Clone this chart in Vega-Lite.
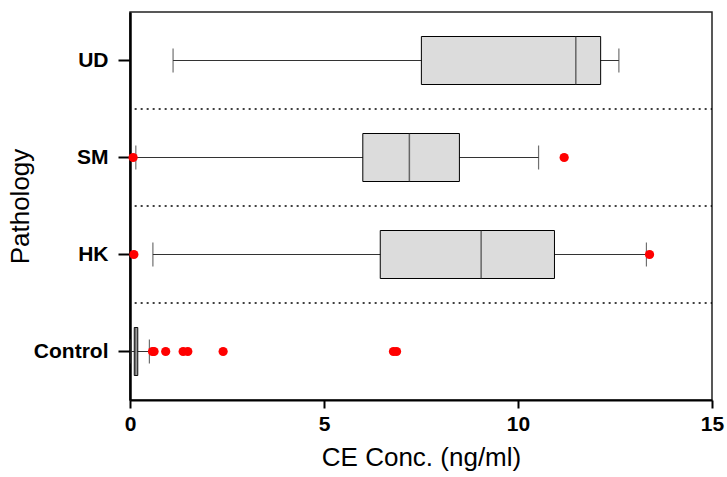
{
  "$schema": "https://vega.github.io/schema/vega-lite/v6.json",
  "width": 582,
  "height": 388,
  "autosize": "none",
  "padding": {"left": 130, "top": 12, "right": 15, "bottom": 77},
  "background": "white",
  "config": {
    "font": "Liberation Sans",
    "view": {"stroke": "#222222", "strokeWidth": 1.5}
  },
  "datasets": {
    "stats": [
      {"Pathology": "UD", "min": 1.11, "q1": 7.51, "median": 11.49, "q3": 12.13, "max": 12.6},
      {"Pathology": "SM", "min": 0.15, "q1": 6.0, "median": 7.2, "q3": 8.49, "max": 10.53},
      {"Pathology": "HK", "min": 0.59, "q1": 6.45, "median": 9.05, "q3": 10.94, "max": 13.31},
      {"Pathology": "Control", "min": 0.02, "q1": 0.11, "median": 0.15, "q3": 0.2, "max": 0.5}
    ],
    "outliers": [
      {"Pathology": "SM", "value": 0.08},
      {"Pathology": "SM", "value": 11.19},
      {"Pathology": "HK", "value": 0.1},
      {"Pathology": "HK", "value": 13.39},
      {"Pathology": "Control", "value": 0.58},
      {"Pathology": "Control", "value": 0.62},
      {"Pathology": "Control", "value": 0.92},
      {"Pathology": "Control", "value": 1.37},
      {"Pathology": "Control", "value": 1.49},
      {"Pathology": "Control", "value": 2.4},
      {"Pathology": "Control", "value": 6.79},
      {"Pathology": "Control", "value": 6.87}
    ],
    "groups": [
      {"Pathology": "UD"},
      {"Pathology": "SM"},
      {"Pathology": "HK"}
    ]
  },
  "encoding": {
    "y": {
      "field": "Pathology",
      "type": "nominal",
      "scale": {"domain": ["UD", "SM", "HK", "Control"], "paddingInner": 0, "paddingOuter": 0},
      "axis": {
        "title": "Pathology",
        "titleFontSize": 26,
        "titleFontWeight": "normal",
        "titleColor": "black",
        "titlePadding": 0,
        "labelFontSize": 21,
        "labelFontWeight": "bold",
        "labelColor": "black",
        "labelPadding": 10,
        "tickSize": 12,
        "tickWidth": 2,
        "tickColor": "black",
        "domainWidth": 2.5,
        "domainColor": "black"
      }
    }
  },
  "layer": [
    {
      "data": {"name": "groups"},
      "mark": {"type": "rule", "strokeDash": [2, 4], "color": "black", "strokeWidth": 1.5},
      "encoding": {
        "y": {"field": "Pathology", "type": "nominal", "bandPosition": 1},
        "x": {"datum": 0.12, "type": "quantitative"},
        "x2": {"datum": 15}
      }
    },
    {
      "data": {"name": "stats"},
      "mark": {"type": "rule", "color": "#333333", "strokeWidth": 1},
      "encoding": {
        "x": {
          "field": "min",
          "type": "quantitative",
          "scale": {"domain": [0, 15], "nice": false},
          "axis": {
            "title": "CE Conc. (ng/ml)",
            "titleFontSize": 26,
            "titleFontWeight": "normal",
            "titleColor": "black",
            "titlePadding": 10,
            "values": [0, 5, 10, 15],
            "labelFontSize": 21,
            "labelFontWeight": "bold",
            "labelColor": "black",
            "labelPadding": 5,
            "labelFlush": false,
            "tickSize": 8,
            "tickWidth": 2,
            "tickColor": "black",
            "domainWidth": 2,
            "domainColor": "black",
            "grid": false
          }
        },
        "x2": {"field": "max"}
      }
    },
    {
      "data": {"name": "stats"},
      "mark": {"type": "bar", "size": 48, "fill": "#dcdcdc", "stroke": "black", "strokeWidth": 1},
      "encoding": {
        "x": {"field": "q1", "type": "quantitative"},
        "x2": {"field": "q3"}
      }
    },
    {
      "data": {"name": "stats"},
      "mark": {"type": "tick", "size": 48, "thickness": 1.5, "color": "#333333"},
      "encoding": {
        "x": {"field": "median", "type": "quantitative"}
      }
    },
    {
      "data": {"name": "stats"},
      "mark": {"type": "tick", "size": 24, "thickness": 1.2, "color": "#333333"},
      "encoding": {
        "x": {"field": "min", "type": "quantitative"}
      }
    },
    {
      "data": {"name": "stats"},
      "mark": {"type": "tick", "size": 24, "thickness": 1.2, "color": "#333333"},
      "encoding": {
        "x": {"field": "max", "type": "quantitative"}
      }
    },
    {
      "data": {"name": "outliers"},
      "mark": {"type": "circle", "size": 85, "color": "#ff0000", "opacity": 1},
      "encoding": {
        "x": {"field": "value", "type": "quantitative"}
      }
    }
  ]
}
